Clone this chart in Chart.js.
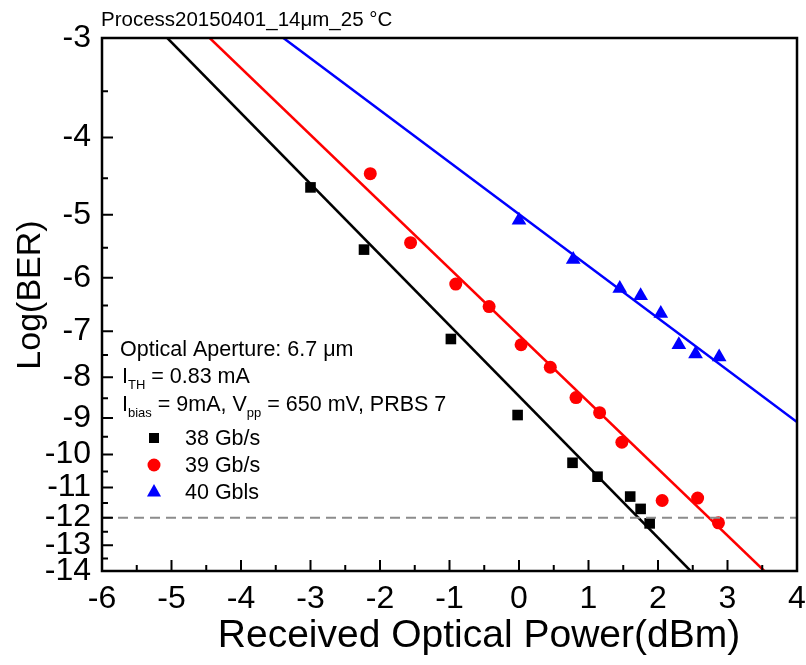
<!DOCTYPE html>
<html>
<head>
<meta charset="utf-8">
<script src="https://cdn.jsdelivr.net/npm/chart.js@4.4.0/dist/chart.umd.min.js"></script>
<style>
  html, body { margin: 0; padding: 0; background: #fff; }
</style>
</head>
<body>
<canvas id="berChart" width="806" height="665"></canvas>
<script>
// Received optical power (dBm) vs Log(BER)
const power38 = [-3.0, -2.23, -0.98, -0.02, 0.77, 1.13, 1.60, 1.75, 1.88];
const logBer38 = [-4.62, -5.53, -7.16, -8.92, -10.24, -10.66, -11.29, -11.70, -12.20];

const power39 = [-2.14, -1.56, -0.91, -0.43, 0.03, 0.45, 0.82, 1.16, 1.48, 2.06, 2.57, 2.87];
const logBer39 = [-4.44, -5.42, -6.11, -6.52, -7.28, -7.77, -8.48, -8.86, -9.65, -11.42, -11.34, -12.18];

const power40 = [0.0, 0.78, 1.45, 1.75, 2.04, 2.30, 2.54, 2.88];
const logBer40 = [-5.08, -5.69, -6.19, -6.32, -6.65, -7.28, -7.48, -7.54];

// end points of the fitted lines
const fitPower38 = [-5.06, 2.47];
const fitBer38 = [-3, -14];
const fitPower39 = [-4.45, 3.53];
const fitBer39 = [-3, -14];
const fitPower40 = [-3.39, 4];
const fitBer40 = [-3, -9.1];

// FEC limit line
const limitPower = [-6, 4];
const limitBer = [-12, -12];

const seriesLabels = ['38 Gb/s', '39 Gb/s', '40 Gbls'];
const seriesColors = ['#000000', '#ff0000', '#0000ff'];

const xTicks = [-6, -5, -4, -3, -2, -1, 0, 1, 2, 3, 4];
const yTicks = [-3, -4, -5, -6, -7, -8, -9, -10, -11, -12, -13, -14];

const chartTitle = 'Process20150401_14\u03bcm_25 \u00b0C';
const xTitle = 'Received Optical Power(dBm)';
const yTitle = 'Log(BER)';

// the y axis runs on log(-log BER), so points are placed by -log BER
function toPoints(xs, ys) {
    return xs.map((x, i) => ({ x: x, y: -ys[i] }));
}

const FONT = '"Liberation Sans", Arial, sans-serif';

// draws a line of text where some pieces are subscripts
function drawRich(ctx, parts, x, y, size) {
    let cx = x;
    parts.forEach(p => {
        const sub = p[1];
        ctx.font = (sub ? Math.round(size * 0.62) : size) + 'px ' + FONT;
        ctx.fillText(p[0], cx, sub ? y + 6 : y);
        cx += ctx.measureText(p[0]).width;
    });
}

function drawMarker(ctx, style, x, y, color) {
    ctx.fillStyle = color;
    ctx.beginPath();
    if (style === 'rect') {
        ctx.rect(x - 5, y - 5, 10, 10);
    } else if (style === 'circle') {
        ctx.arc(x, y, 6.5, 0, Math.PI * 2);
    } else {
        ctx.moveTo(x, y - 8);
        ctx.lineTo(x + 7, y + 4.5);
        ctx.lineTo(x - 7, y + 4.5);
        ctx.closePath();
    }
    ctx.fill();
}

const framePlugin = {
    id: 'frame',
    afterDraw(chart) {
        const { ctx, chartArea: a, scales: { x, y } } = chart;
        ctx.save();

        // box round the plot
        ctx.strokeStyle = '#000';
        ctx.lineWidth = 2.5;
        ctx.strokeRect(a.left, a.top, a.right - a.left, a.bottom - a.top);

        // inward ticks, major and minor
        ctx.lineWidth = 2;
        ctx.beginPath();
        xTicks.forEach((t, i) => {
            const px = x.getPixelForValue(t);
            ctx.moveTo(px, a.bottom);
            ctx.lineTo(px, a.bottom - 11);
            if (i < xTicks.length - 1) {
                const pm = x.getPixelForValue(t + 0.5);
                ctx.moveTo(pm, a.bottom);
                ctx.lineTo(pm, a.bottom - 6);
            }
        });
        yTicks.forEach((t, i) => {
            const py = y.getPixelForValue(-t);
            ctx.moveTo(a.left, py);
            ctx.lineTo(a.left + 11, py);
            if (i < yTicks.length - 1) {
                const pm = y.getPixelForValue(-t + 0.5);
                ctx.moveTo(a.left, pm);
                ctx.lineTo(a.left + 6, pm);
            }
        });
        ctx.stroke();

        ctx.fillStyle = '#000';
        ctx.textBaseline = 'alphabetic';

        // title above the plot
        ctx.textAlign = 'left';
        ctx.font = '20.5px ' + FONT;
        ctx.fillText(chartTitle, a.left - 1, 26);

        // axis titles
        ctx.textAlign = 'center';
        ctx.textBaseline = 'middle';
        ctx.font = '39px ' + FONT;
        ctx.fillText(xTitle, 479, 636);
        ctx.save();
        ctx.translate(31, 295);
        ctx.rotate(-Math.PI / 2);
        ctx.font = '34px ' + FONT;
        ctx.fillText(yTitle, 0, 0);
        ctx.restore();

        // device notes
        ctx.textAlign = 'left';
        ctx.textBaseline = 'alphabetic';
        ctx.font = '21.5px ' + FONT;
        ctx.fillText('Optical Aperture: 6.7 \u03bcm', 120, 356);
        drawRich(ctx, [['I', false], ['TH', true], [' = 0.83 mA', false]], 122, 383, 21.5);
        drawRich(ctx, [['I', false], ['bias', true], [' = 9mA, V', false], ['pp', true], [' = 650 mV, PRBS 7', false]], 122, 411, 21.5);

        // legend
        const styles = ['rect', 'circle', 'triangle'];
        seriesLabels.forEach((lab, i) => {
            const ly = 438 + i * 27;
            drawMarker(ctx, styles[i], 154, ly, seriesColors[i]);
            ctx.fillStyle = '#000';
            ctx.font = '21.5px ' + FONT;
            ctx.fillText(lab, 185, ly + 7);
        });

        ctx.restore();
    }
};

const ctx = document.getElementById('berChart').getContext('2d');
new Chart(ctx, {
    type: 'scatter',
    data: {
        datasets: [
            {
                label: 'limit',
                type: 'line',
                data: toPoints(limitPower, limitBer),
                borderColor: '#8c8c8c',
                borderWidth: 2,
                borderDash: [10, 6],
                pointRadius: 0,
                fill: false
            },
            {
                label: seriesLabels[0] + ' fit',
                type: 'line',
                data: toPoints(fitPower38, fitBer38),
                borderColor: seriesColors[0],
                borderWidth: 2.5,
                pointRadius: 0,
                fill: false
            },
            {
                label: seriesLabels[1] + ' fit',
                type: 'line',
                data: toPoints(fitPower39, fitBer39),
                borderColor: seriesColors[1],
                borderWidth: 2.5,
                pointRadius: 0,
                fill: false
            },
            {
                label: seriesLabels[2] + ' fit',
                type: 'line',
                data: toPoints(fitPower40, fitBer40),
                borderColor: seriesColors[2],
                borderWidth: 2.5,
                pointRadius: 0,
                fill: false
            },
            {
                label: seriesLabels[0],
                data: toPoints(power38, logBer38),
                pointStyle: 'rect',
                pointRadius: 7.5,
                backgroundColor: seriesColors[0],
                borderColor: seriesColors[0],
                borderWidth: 0
            },
            {
                label: seriesLabels[1],
                data: toPoints(power39, logBer39),
                pointStyle: 'circle',
                pointRadius: 6.5,
                backgroundColor: seriesColors[1],
                borderColor: seriesColors[1],
                borderWidth: 0
            },
            {
                label: seriesLabels[2],
                data: toPoints(power40, logBer40),
                pointStyle: 'triangle',
                pointRadius: 8.5,
                backgroundColor: seriesColors[2],
                borderColor: seriesColors[2],
                borderWidth: 0
            }
        ]
    },
    options: {
        responsive: false,
        animation: false,
        layout: { padding: { top: 38, right: 0, left: 0, bottom: 0 } },
        plugins: {
            legend: { display: false },
            tooltip: { enabled: false }
        },
        scales: {
            x: {
                type: 'linear',
                min: -6,
                max: 4,
                grid: { display: false, drawTicks: false },
                border: { display: false },
                afterFit(scale) {
                    scale.height = 94;
                    scale.paddingRight = 9;
                },
                afterBuildTicks(scale) { scale.ticks = xTicks.map(v => ({ value: v })); },
                ticks: {
                    autoSkip: false,
                    maxRotation: 0,
                    padding: 9,
                    color: '#000',
                    font: { family: FONT, size: 32 },
                    callback: v => String(v)
                }
            },
            y: {
                type: 'logarithmic',
                min: 3,
                max: 14,
                reverse: true,
                grid: { display: false, drawTicks: false },
                border: { display: false },
                afterFit(scale) { scale.width = 102; },
                afterBuildTicks(scale) { scale.ticks = yTicks.map(v => ({ value: -v })); },
                ticks: {
                    autoSkip: false,
                    padding: 11,
                    color: '#000',
                    font: { family: FONT, size: 32 },
                    callback: v => String(-v)
                }
            }
        }
    },
    plugins: [framePlugin]
});
</script>
</body>
</html>
